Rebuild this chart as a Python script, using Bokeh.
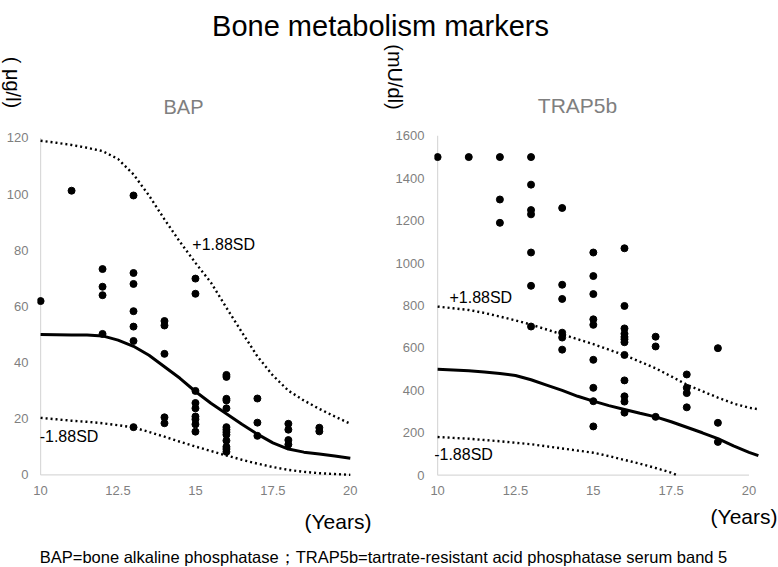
import math
from bokeh.plotting import figure
from bokeh.layouts import column, row
from bokeh.models import Label, FixedTicker, Range1d
from bokeh.embed import file_html
from bokeh.resources import INLINE

FONT = "Liberation Sans"

# ---------------- data ----------------
main_title = "Bone metabolism markers"
footnote = "BAP=bone alkaline phosphatase\uff1bTRAP5b=tartrate-resistant acid phosphatase serum band 5"

x_ticks = [10, 12.5, 15, 17.5, 20]
x_tick_labels = ["10", "12.5", "15", "17.5", "20"]

bap_y_ticks = [0, 20, 40, 60, 80, 100, 120]
trap_y_ticks = [0, 200, 400, 600, 800, 1000, 1200, 1400, 1600]

# BAP measured values (age -> values)
bap_points = {
    10: [61.9],
    11: [101.2],
    12: [73.3, 67.0, 64.0, 50.2],
    13: [99.5, 71.9, 68.0, 58.3, 52.8, 47.7, 17.0],
    14: [54.8, 53.2, 43.1, 20.5, 18.4],
    15: [69.9, 64.5, 29.9, 25.6, 23.7, 20.8, 19.8, 18.0, 15.4],
    16: [35.6, 34.9, 27.1, 26.5, 23.7, 17.0, 16.1, 15.2, 14.3, 12.2, 10.0, 9.2, 8.2],
    17: [27.2, 18.6, 13.9],
    18: [18.2, 16.1, 12.4, 10.8],
    19: [16.8, 15.5],
}

bap_curve_x = [10, 10.5, 11, 11.5, 12, 12.5, 13, 13.5, 14, 14.5, 15, 15.5, 16, 16.5, 17, 17.5, 18, 18.5, 19, 19.5, 20]
bap_mean = [50, 49.9, 49.8, 49.8, 49.5, 48, 45.8, 42.6, 38.5, 34.4, 29.7, 25.5, 21.8, 18.0, 14.5, 11.4, 9.2, 8.1, 7.4, 6.7, 5.9]
bap_upper = [119, 118.3, 117.5, 116.5, 115.3, 112.5, 107, 99.5, 91, 83, 75.5, 68.5, 59.5, 50.8, 42.2, 35.4, 30, 26.5, 23.5, 20.8, 18.2]
bap_lower = [20.3, 19.8, 19.3, 18.9, 18.4, 17.7, 16.9, 15.3, 13.6, 11.8, 10.1, 8.5, 6.9, 5.4, 4.0, 2.8, 1.8, 1.1, 0.6, 0.3, 0.0]

# TRAP5b measured values (age -> values)
trap_points = {
    10: [1500],
    11: [1500],
    12: [1500, 1300, 1190],
    13: [1500, 1370, 1250, 1230, 1050, 893, 701],
    14: [1260, 898, 831, 672, 649, 592],
    15: [1050, 939, 854, 735, 709, 544, 412, 349, 230],
    16: [1070, 798, 692, 667, 652, 641, 627, 567, 447, 372, 347, 295],
    17: [653, 607, 275],
    18: [475, 412, 387, 320],
    19: [599, 247, 157],
}

trap_curve_x = [10, 10.5, 11, 11.5, 12, 12.5, 13, 13.5, 14, 14.5, 15, 15.5, 16, 16.5, 17, 17.5, 18, 18.5, 19, 19.5, 20, 20.3]
trap_mean = [499, 496, 492, 487, 480, 470, 450, 425, 400, 372, 349, 328, 310, 292, 275, 252, 226, 200, 172, 138, 108, 92]
trap_upper = [795, 787, 779, 765, 748, 730, 710, 687, 664, 641, 618, 592, 566, 535, 504, 466, 427, 396, 366, 338, 318, 311]
trap_lower_x = [10, 10.5, 11, 11.5, 12, 12.5, 13, 13.5, 14, 14.5, 15, 15.5, 16, 16.5, 17, 17.5, 17.7]
trap_lower = [180, 176, 172, 166, 160, 153, 146, 136, 126, 116, 106, 90, 72, 54, 34, 12, 0]


def flatten(points):
    xs, ys = [], []
    for k, vals in points.items():
        for v in vals:
            xs.append(k)
            ys.append(v)
    return xs, ys


TICK_COLOR = "#7f7f7f"
AXIS_COLOR = "#d9d9d9"


def style(p, yticks, y_standoff):
    p.xgrid.visible = False
    p.ygrid.visible = False
    p.outline_line_color = None
    p.background_fill_color = "white"
    p.border_fill_color = "white"
    for ax in (p.xaxis, p.yaxis):
        ax.axis_line_color = None
        ax.major_tick_line_color = None
        ax.minor_tick_line_color = None
        ax.major_tick_out = 0
        ax.major_tick_in = 0
        ax.minor_tick_out = 0
        ax.minor_tick_in = 0
        ax.major_label_text_color = TICK_COLOR
        ax.major_label_text_font = FONT
        ax.major_label_text_font_size = "13px"
    p.xaxis.ticker = FixedTicker(ticks=x_ticks)
    p.xaxis.major_label_overrides = {t: l for t, l in zip(x_ticks, x_tick_labels)}
    p.xaxis.major_label_standoff = 5
    p.yaxis.ticker = FixedTicker(ticks=yticks)
    p.yaxis.major_label_standoff = y_standoff
    # light axis lines over the data extent
    p.segment(x0=[x_ticks[0]], y0=[yticks[0]], x1=[x_ticks[-1]], y1=[yticks[0]],
              line_color=AXIS_COLOR, line_width=1.2)
    p.segment(x0=[x_ticks[0]], y0=[yticks[0]], x1=[x_ticks[0]], y1=[yticks[-1]],
              line_color=AXIS_COLOR, line_width=1.2)


def lab(p, x, y, text, size, color="black", align="left", angle=0.0, baseline="middle"):
    p.add_layout(Label(x=x, y=y, text=text, text_font=FONT, text_font_size=size,
                       text_color=color, text_align=align, text_baseline=baseline,
                       angle=angle))


def text_fig(w, h):
    # a plain canvas without axes; y runs downward in pixels from the top
    f = figure(width=w, height=h, x_range=Range1d(0, w), y_range=Range1d(h, 0),
               x_axis_type=None, y_axis_type=None,
               min_border=0, output_backend="svg", toolbar_location=None)
    f.grid.visible = False
    f.outline_line_color = None
    f.background_fill_color = "white"
    f.border_fill_color = "white"
    return f


# ---------------- header: main title, panel titles, units ----------------
header = text_fig(778, 118)
lab(header, 380, 25, main_title, "29px", "black", "center", baseline="alphabetic")
lab(header, 183, 106, "BAP", "20px", "#7f7f7f", "center")
lab(header, 577, 105, "TRAP5b", "21px", "#7f7f7f", "center")
lab(header, 12.5, 82, "( \u03bcg/l)", "20px", "black", "center", -math.pi / 2)
lab(header, 394.5, 76.5, "(mU/dl)", "20px", "black", "center", -math.pi / 2)

# ---------------- left panel: BAP ----------------
left = figure(width=385, height=386, x_range=Range1d(9.9, 20.2), y_range=Range1d(-2, 123),
              min_border_left=37, min_border_right=29, min_border_top=11, min_border_bottom=24,
              output_backend="svg", toolbar_location=None)
style(left, bap_y_ticks, 9)
bx, by = flatten(bap_points)
left.line(bap_curve_x, bap_upper, line_color="black", line_width=2.4, line_dash="2 3")
left.line(bap_curve_x, bap_lower, line_color="black", line_width=2.4, line_dash="2 3")
left.line(bap_curve_x, bap_mean, line_color="black", line_width=3)
left.scatter(bx, by, size=7, color="black")
lab(left, 14.9, 82, "+1.88SD", "16px")
lab(left, 9.97, 13.7, "-1.88SD", "16px")

# ---------------- right panel: TRAP5b ----------------
right = figure(width=393, height=386, x_range=Range1d(9.9, 20.4), y_range=Range1d(-25, 1630),
               min_border_left=49, min_border_right=17, min_border_top=3, min_border_bottom=24,
               output_backend="svg", toolbar_location=None)
style(right, trap_y_ticks, 10)
tx, ty = flatten(trap_points)
right.line(trap_curve_x, trap_upper, line_color="black", line_width=2.4, line_dash="2 3")
right.line(trap_lower_x, trap_lower, line_color="black", line_width=2.4, line_dash="2 3")
right.line(trap_curve_x, trap_mean, line_color="black", line_width=3)
right.scatter(tx, ty, size=7, color="black")
lab(right, 10.38, 836, "+1.88SD", "16px")
lab(right, 9.89, 97, "-1.88SD", "16px")

# ---------------- footer: axis titles and footnote ----------------
footer = text_fig(778, 63)
lab(footer, 337.5, 17, "(Years)", "21px", "black", "center")
lab(footer, 777, 11.5, "(Years)", "21px", "black", "right")
lab(footer, 383, 52, footnote, "16.5px", "black", "center", baseline="alphabetic")

layout = column(header, row(left, right), footer)

open("out.html", "w").write(file_html(layout, INLINE))
